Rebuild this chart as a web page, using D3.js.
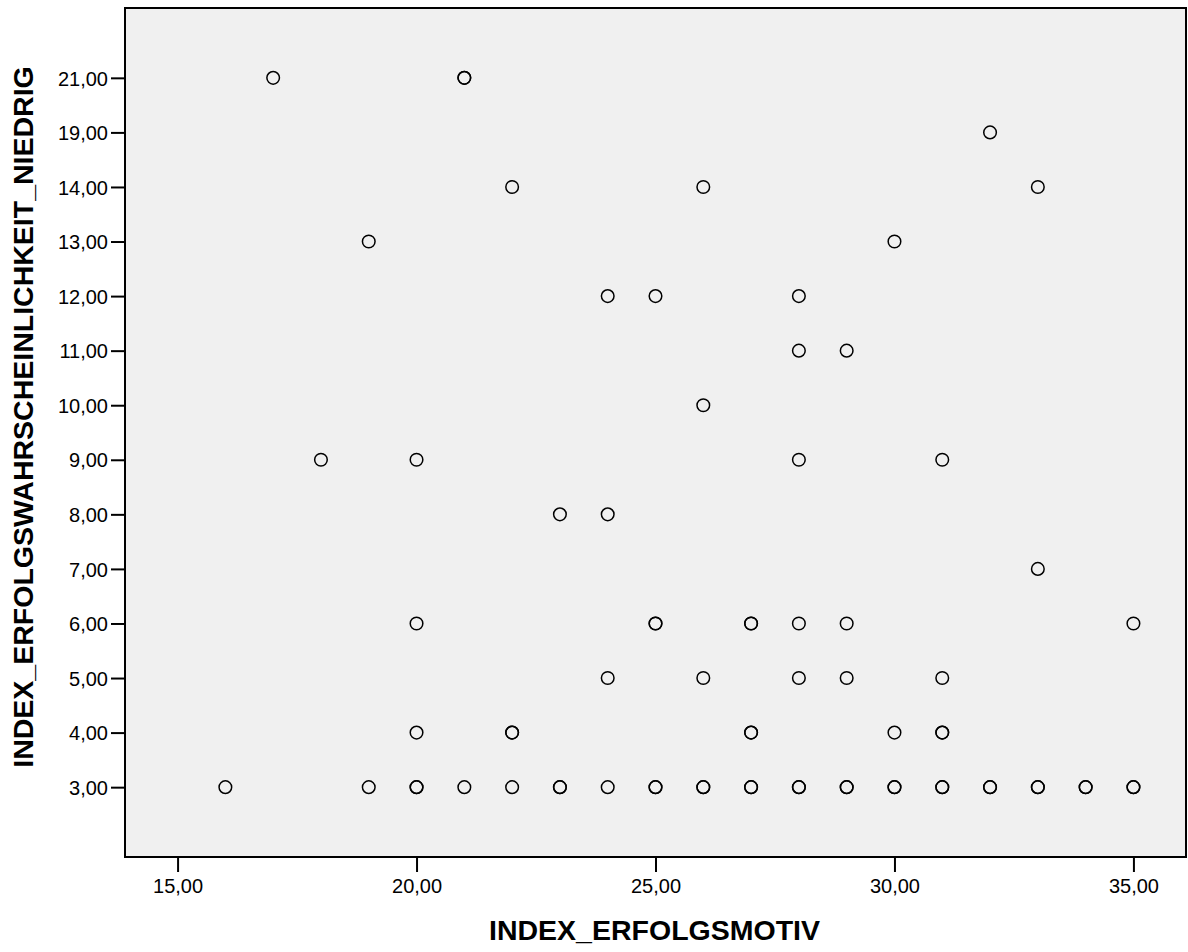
<!DOCTYPE html>
<html>
<head>
<meta charset="utf-8">
<script src="https://cdn.jsdelivr.net/npm/d3@7"></script>
<style>
  body { margin: 0; background: #fff; }
  text { font-family: "Liberation Sans", Arial, sans-serif; fill: #000; }
</style>
</head>
<body>
<div id="graf"></div>
<script>
// Werte aus dem Streudiagramm (Mehrfachpunkte doppelt eingetragen)
const erfolgsmotiv = [
  17, 21, 21,
  32,
  22, 26, 33,
  19, 30,
  24, 25, 28,
  28, 29,
  26,
  18, 20, 28, 31,
  23, 24,
  33,
  20, 25, 25, 27, 27, 28, 29, 35,
  24, 26, 28, 29, 31,
  20, 22, 22, 27, 27, 30, 31, 31,
  16, 19, 20, 20, 21, 22, 23, 23, 24, 25, 25, 26, 26, 27, 27, 28, 28,
  29, 29, 30, 30, 31, 31, 32, 32, 33, 33, 34, 34, 35, 35,
]
const wahrscheinlichkeit = [
  21, 21, 21,
  19,
  14, 14, 14,
  13, 13,
  12, 12, 12,
  11, 11,
  10,
  9, 9, 9, 9,
  8, 8,
  7,
  6, 6, 6, 6, 6, 6, 6, 6,
  5, 5, 5, 5, 5,
  4, 4, 4, 4, 4, 4, 4, 4,
  3, 3, 3, 3, 3, 3, 3, 3, 3, 3, 3, 3, 3, 3, 3, 3, 3,
  3, 3, 3, 3, 3, 3, 3, 3, 3, 3, 3, 3, 3, 3,
]
const yKategorien = [3, 4, 5, 6, 7, 8, 9, 10, 11, 12, 13, 14, 19, 21]
const xTicks = [15, 20, 25, 30, 35]

const anchoTotal = 1188
const altoTotal = 952
const plot = { left: 125, right: 1186, top: 8, bottom: 857 }

const svg = d3
  .select("#graf")
  .append("svg")
  .attr("width", anchoTotal)
  .attr("height", altoTotal)

const fmt = (v) => d3.format(".2f")(v).replace(".", ",")

const x = d3.scaleLinear().domain([13.9, 36.1]).range([plot.left, plot.right])
const y = d3
  .scalePoint()
  .domain(yKategorien)
  .range([plot.bottom, plot.top])
  .padding(1.28)

// Hintergrund
svg
  .append("rect")
  .attr("x", plot.left)
  .attr("y", plot.top)
  .attr("width", plot.right - plot.left)
  .attr("height", plot.bottom - plot.top)
  .attr("fill", "#f0f0f0")

// Achsen
const xAxis = svg
  .append("g")
  .attr("transform", `translate(0, ${plot.bottom})`)
  .call(d3.axisBottom(x).tickValues(xTicks).tickFormat(fmt).tickSize(15).tickPadding(7))
const yAxis = svg
  .append("g")
  .attr("transform", `translate(${plot.left}, 0)`)
  .call(d3.axisLeft(y).tickFormat(fmt).tickSize(14).tickPadding(3))

for (const ax of [xAxis, yAxis]) {
  ax.select(".domain").remove()
  ax.selectAll("line").attr("stroke", "#000").attr("stroke-width", 2)
  ax.selectAll("text")
    .style("font-family", '"Liberation Sans", Arial, sans-serif')
    .style("font-size", "20px")
    .attr("fill", "#000")
}
yAxis.selectAll("text").attr("dy", "0.36em")

// Rahmen
svg
  .append("rect")
  .attr("x", plot.left)
  .attr("y", plot.top)
  .attr("width", plot.right - plot.left)
  .attr("height", plot.bottom - plot.top)
  .attr("fill", "none")
  .attr("stroke", "#000")
  .attr("stroke-width", 2)

// Punkte
const punkte = erfolgsmotiv.map((d, i) => ({ x: d, y: wahrscheinlichkeit[i] }))
svg
  .append("g")
  .selectAll("circle")
  .data(punkte)
  .enter()
  .append("circle")
  .attr("cx", (d) => x(d.x))
  .attr("cy", (d) => y(d.y))
  .attr("r", 6.3)
  .attr("fill", "none")
  .attr("stroke", "#000")
  .attr("stroke-width", 1.5)

// Achsentitel
svg
  .append("text")
  .attr("x", (plot.left + plot.right) / 2 - 1)
  .attr("y", 940)
  .attr("text-anchor", "middle")
  .style("font-size", "28.5px")
  .style("font-weight", "bold")
  .text("INDEX_ERFOLGSMOTIV")

svg
  .append("text")
  .attr("transform", `translate(33, 417) rotate(-90)`)
  .attr("text-anchor", "middle")
  .style("font-size", "28.5px")
  .style("font-weight", "bold")
  .text("INDEX_ERFOLGSWAHRSCHEINLICHKEIT_NIEDRIG")
</script>
</body>
</html>
